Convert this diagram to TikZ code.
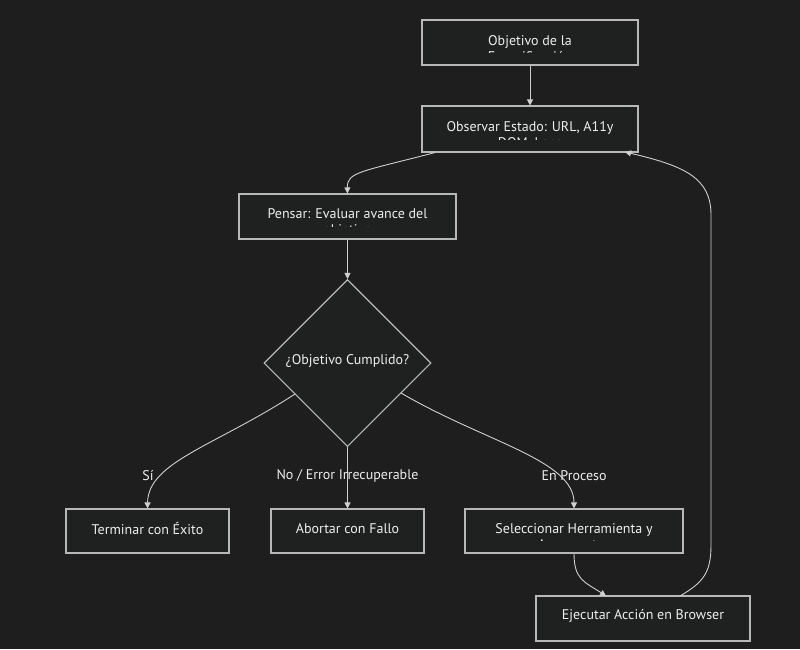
\documentclass[tikz,border=0pt]{standalone}
\usepackage{fontspec}
\setmainfont{PT Sans}
\usetikzlibrary{arrows.meta,shapes.geometric}
\definecolor{bgc}{HTML}{1E1E1E}
\definecolor{boxfill}{HTML}{1F2020}
\definecolor{boxline}{HTML}{B8B8B8}
\definecolor{linkc}{HTML}{D0D0D0}
\definecolor{txt}{HTML}{EEEEEE}
\tikzset{
  x=1pt, y=-1pt,
  box/.style={draw=boxline, fill=boxfill, line width=1.1pt, rectangle,
    inner sep=0pt, text=txt, font=\fontsize{14}{16}\selectfont},
  boxtxt/.style={text=txt, font=\fontsize{14}{16}\selectfont, align=center, inner sep=0pt},
  link/.style={draw=linkc, line width=0.9pt, -{Triangle[length=6pt,width=6pt]}},
  lbl/.style={text=txt, font=\fontsize{14}{16}\selectfont, inner sep=0pt},
}
\begin{document}
\begin{tikzpicture}
\fill[bgc] (0,0) rectangle (800,649);
\useasboundingbox (0,0) rectangle (800,649);

% boxes whose second line is cut off by the box height
\node[box, minimum width=216pt, minimum height=45pt] (obj) at (530,42.5) {};
\node[box, minimum width=216pt, minimum height=46pt] (obs) at (530,129) {};
\node[box, minimum width=217pt, minimum height=45pt] (pen) at (347.5,216.5) {};
\node[box, minimum width=218pt, minimum height=44pt] (sel) at (574,531) {};

\begin{scope}
  \clip (422,20) rectangle (638,52);
  \node[boxtxt, anchor=north] (objt) at (530,35.5) {Objetivo de la\\Especificación};
\end{scope}
\begin{scope}
  \clip (422,106) rectangle (638,139);
  \node[boxtxt, anchor=north] (obst) at (530,121.5) {Observar Estado: URL, A11y\\DOM, Logs};
\end{scope}
\begin{scope}
  \clip (239,194) rectangle (456,226);
  \node[boxtxt, anchor=north] (pent) at (347.5,208.5) {Pensar: Evaluar avance del\\objetivo};
\end{scope}
\begin{scope}
  \clip (465,509) rectangle (683,540);
  \node[boxtxt, anchor=north] (selt) at (574,523.5) {Seleccionar Herramienta y\\Argumentos};
\end{scope}

% decision
\node[draw=boxline, fill=boxfill, line width=1.1pt, diamond, aspect=1,
  minimum width=167pt, minimum height=167pt, inner sep=0pt] (dec) at (347.5,363) {};
\node[lbl] (dect) at (347.5,361) {¿Objetivo Cumplido?};

% outcome boxes
\node[box, minimum width=163pt, minimum height=44pt] (fin) at (147.5,531) {};
\node[box, minimum width=153pt, minimum height=44pt] (abo) at (347.5,531) {};
\node[box, minimum width=214pt, minimum height=45pt] (eje) at (643,618.5) {};
\node[lbl] (fint) at (147.5,528.5) {Terminar con Éxito};
\node[lbl] (abot) at (347.5,528.5) {Abortar con Fallo};
\node[lbl] (ejet) at (643,616) {Ejecutar Acción en Browser};

% connectors
\draw[link] (obj.south) -- (obs.north);
\draw[link] (obs.south) ++(-95,0) coordinate (obsA)
  .. controls (360,172) and (347,172) .. (pen.north);
\draw[link] (pen.south) -- (dec.north);
\draw[link] (dec.south) -- (abo.north);
\coordinate (decL) at (295,394);
\coordinate (decR) at (401,393);
\draw[link] (decL) .. controls (215,446) and (148,462) .. (fin.north);
\draw[link] (decR) .. controls (485,442) and (574,460) .. (sel.north);
\coordinate (ejeIn) at (606,596);
\draw[link] (sel.south) .. controls (574,580) and (585,582) .. (ejeIn);
\coordinate (ejeOut) at (680,596);
\coordinate (obsIn) at (625,152);
\draw[link] (ejeOut) .. controls (704,582) and (711,572) .. (711,545)
  -- (711,215) .. controls (711,178) and (685,166) .. (obsIn);

% edge labels
\node[lbl] (lsi) at (148,475.5) {Sí};
\node[lbl] (lno) at (347.5,475.5) {No / Error Irrecuperable};
\node[lbl] (len) at (574,475.5) {En Proceso};
\end{tikzpicture}
\end{document}
